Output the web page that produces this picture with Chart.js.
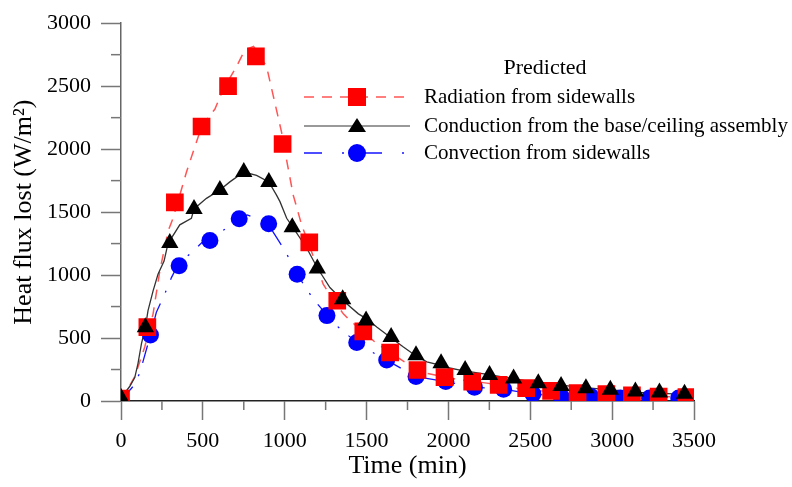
<!DOCTYPE html>
<html>
<head>
<meta charset="utf-8">
<script src="https://cdn.jsdelivr.net/npm/chart.js@4.4.1/dist/chart.umd.min.js"></script>
<style>
  html, body { margin: 0; padding: 0; background: #fff; }
  #wrap { width: 792px; height: 487px; }
</style>
</head>
<body>
<div id="wrap"><canvas id="grafico" width="792" height="487"></canvas></div>
<script>
// ---- datos ----
// marcadores (Predicted)
const radTime = [0, 161, 329, 492, 654, 824, 987, 1150, 1321, 1480, 1644, 1811, 1976, 2145, 2307, 2475, 2627, 2789, 2965, 3121, 3284, 3454];
const radVal  = [20, 587, 1577, 2180, 2500, 2736, 2041, 1260, 796, 553, 385, 246, 189, 154, 128, 102, 81, 63, 55, 44, 36, 31];

const condTime = [0, 149, 298, 446, 604, 750, 903, 1046, 1199, 1354, 1497, 1650, 1802, 1955, 2102, 2251, 2398, 2549, 2688, 2840, 2989, 3142, 3289, 3442];
const condVal  = [25, 586, 1255, 1525, 1675, 1818, 1740, 1380, 1053, 808, 639, 508, 364, 299, 246, 207, 178, 141, 120, 102, 89, 75, 68, 57];

const convTime = [0, 180, 355, 543, 722, 902, 1076, 1258, 1440, 1623, 1802, 1984, 2159, 2337, 2516, 2689, 2871, 3050, 3229, 3407];
const convVal  = [5, 524, 1074, 1274, 1447, 1407, 1006, 678, 464, 325, 194, 154, 110, 94, 55, 36, 36, 24, 24, 24];

// curvas continuas
const radCurveTime = [0, 84, 145, 196, 237, 287, 318, 400, 440, 481, 532, 573, 624, 706, 757, 810, 889, 981, 1012, 1052, 1103, 1185, 1235, 1287, 1358, 1399, 1562, 1746, 1868, 1969, 2072, 2235, 2418, 2561, 2800, 3100, 3450];
const radCurveVal  = [0, 193, 429, 692, 1032, 1347, 1451, 1818, 1976, 2133, 2250, 2316, 2473, 2657, 2788, 2815, 2657, 2133, 1910, 1635, 1400, 1111, 928, 822, 692, 639, 456, 299, 220, 193, 168, 142, 102, 81, 60, 44, 30];

const condCurveTime = [0, 53, 84, 104, 125, 149, 165, 196, 226, 263, 287, 359, 430, 446, 522, 604, 665, 750, 828, 903, 950, 971, 1012, 1046, 1134, 1199, 1276, 1354, 1450, 1501, 1562, 1643, 1725, 1796, 1868, 1949, 2000, 2071, 2255, 2561, 2867, 3173, 3478];
const condCurveVal  = [25, 115, 186, 299, 456, 586, 718, 875, 1006, 1111, 1250, 1399, 1451, 1525, 1609, 1675, 1740, 1818, 1792, 1740, 1635, 1583, 1451, 1386, 1215, 1058, 901, 800, 692, 652, 587, 508, 429, 364, 311, 285, 264, 246, 207, 142, 102, 68, 50];

const convCurveTime = [0, 73, 114, 180, 216, 267, 308, 349, 461, 502, 543, 640, 722, 771, 828, 899, 991, 1042, 1076, 1174, 1235, 1256, 1327, 1440, 1480, 1511, 1623, 1746, 1776, 1802, 1984, 2159, 2337, 2516, 2689, 2871, 3050, 3229, 3407];
const convCurveVal  = [5, 115, 220, 524, 704, 849, 980, 1085, 1215, 1268, 1294, 1368, 1447, 1478, 1451, 1404, 1215, 1097, 1006, 810, 718, 678, 587, 464, 443, 404, 325, 233, 193, 194, 154, 110, 94, 55, 36, 36, 24, 24, 24];

const xTicksMenores = [250, 750, 1250, 1750, 2250, 2750, 3250];
const yTicksMenores = [250, 750, 1250, 1750, 2250, 2750];

const fuente = '"Liberation Serif", "Times New Roman", serif';
const rojoLinea = 'rgba(255, 85, 85, 1)';
const azulLinea = 'rgba(20, 20, 255, 1)';
const negroLinea = '#333';

function pares(xs, ys) {
    return xs.map((x, i) => ({ x: x, y: ys[i] }));
}

// ticks menores y leyenda dibujados con las escalas de Chart.js
const extrasPlugin = {
    id: 'extras',
    afterDraw(chart) {
        const ctx = chart.ctx;
        const xs = chart.scales.x;
        const ys = chart.scales.y;
        ctx.save();
        ctx.strokeStyle = '#777';
        ctx.lineWidth = 1.5;
        xTicksMenores.forEach(v => {
            const px = xs.getPixelForValue(v);
            ctx.beginPath();
            ctx.moveTo(px, ys.bottom);
            ctx.lineTo(px, ys.bottom + 9);
            ctx.stroke();
        });
        yTicksMenores.forEach(v => {
            const py = ys.getPixelForValue(v);
            ctx.beginPath();
            ctx.moveTo(xs.left, py);
            ctx.lineTo(xs.left - 10, py);
            ctx.stroke();
        });

        // leyenda
        ctx.fillStyle = '#000';
        ctx.font = '22px ' + fuente;
        ctx.textAlign = 'center';
        ctx.textBaseline = 'middle';
        ctx.fillText('Predicted', 545, 68);

        const filas = [
            { y: 97, texto: 'Radiation from sidewalls', color: rojoLinea, dash: [10, 8], marca: 'rect' },
            { y: 126, texto: 'Conduction from the base/ceiling assembly', color: '#777', dash: [], marca: 'triangle' },
            { y: 153, texto: 'Convection from sidewalls', color: azulLinea, dash: [18, 20, 2, 20], marca: 'circle' }
        ];
        filas.forEach(f => {
            ctx.save();
            ctx.strokeStyle = f.color;
            ctx.lineWidth = 1.5;
            ctx.setLineDash(f.dash);
            ctx.beginPath();
            ctx.moveTo(304, f.y);
            ctx.lineTo(410, f.y);
            ctx.stroke();
            ctx.restore();
            if (f.marca === 'rect') {
                ctx.fillStyle = '#ff0000';
                ctx.fillRect(348, f.y - 9, 18, 18);
            } else if (f.marca === 'triangle') {
                ctx.fillStyle = '#000';
                ctx.beginPath();
                ctx.moveTo(357, f.y - 8);
                ctx.lineTo(366, f.y + 6);
                ctx.lineTo(348, f.y + 6);
                ctx.closePath();
                ctx.fill();
            } else {
                ctx.fillStyle = '#0000ff';
                ctx.beginPath();
                ctx.arc(357, f.y, 9, 0, Math.PI * 2);
                ctx.fill();
            }
            ctx.fillStyle = '#000';
            ctx.font = '21px ' + fuente;
            ctx.textAlign = 'left';
            ctx.fillText(f.texto, 424, f.y);
        });
        ctx.restore();
    }
};

const datasets = [
    {
        label: 'Conduction from the base/ceiling assembly',
        data: pares(condTime, condVal),
        showLine: false,
        pointStyle: 'triangle',
        pointRadius: 10,
        pointBackgroundColor: '#000',
        pointBorderWidth: 0,
        order: 0
    },
    {
        label: 'Radiation from sidewalls',
        data: pares(radTime, radVal),
        showLine: false,
        pointStyle: 'rect',
        pointRadius: 12.5,
        pointBackgroundColor: '#ff0000',
        pointBorderWidth: 0,
        order: 1
    },
    {
        label: 'Convection from sidewalls',
        data: pares(convTime, convVal),
        showLine: false,
        pointStyle: 'circle',
        pointRadius: 8.5,
        pointBackgroundColor: '#0000ff',
        pointBorderWidth: 0,
        order: 2
    },
    {
        label: 'cond curve',
        data: pares(condCurveTime, condCurveVal),
        borderColor: negroLinea,
        borderWidth: 1.3,
        pointRadius: 0,
        tension: 0,
        order: 3
    },
    {
        label: 'rad curve',
        data: pares(radCurveTime, radCurveVal),
        borderColor: rojoLinea,
        borderWidth: 1.5,
        borderDash: [10, 8],
        pointRadius: 0,
        tension: 0,
        order: 4
    },
    {
        label: 'conv curve',
        data: pares(convCurveTime, convCurveVal),
        borderColor: azulLinea,
        borderWidth: 1.3,
        borderDash: [18, 12, 2, 12],
        pointRadius: 0,
        tension: 0,
        order: 5
    }
];

const ctx = document.getElementById('grafico').getContext('2d');
new Chart(ctx, {
    type: 'line',
    data: { datasets: datasets },
    options: {
        responsive: false,
        devicePixelRatio: 1,
        animation: false,
        layout: { padding: { top: 20, right: 98, left: 0, bottom: 0 } },
        plugins: {
            legend: { display: false },
            tooltip: { enabled: false }
        },
        scales: {
            x: {
                type: 'linear',
                min: 0,
                max: 3500,
                ticks: {
                    stepSize: 500,
                    color: '#000',
                    font: { family: fuente, size: 22 },
                    padding: 8,
                    maxRotation: 0,
                    callback: v => String(v)
                },
                grid: {
                    display: true,
                    drawOnChartArea: false,
                    drawTicks: true,
                    tickLength: 19,
                    tickColor: '#777',
                    tickWidth: 1.5
                },
                border: { display: true, color: '#222', width: 1.5 },
                title: {
                    display: true,
                    text: 'Time (min)',
                    color: '#000',
                    font: { family: fuente, size: 26 },
                    padding: { top: 0, bottom: 5 }
                },
                afterFit(scale) { scale.height = 86; }
            },
            y: {
                type: 'linear',
                min: 0,
                max: 3000,
                ticks: {
                    stepSize: 500,
                    color: '#000',
                    font: { family: fuente, size: 22 },
                    padding: 10,
                    callback: v => String(v)
                },
                grid: {
                    display: true,
                    drawOnChartArea: false,
                    drawTicks: true,
                    tickLength: 20,
                    tickColor: '#777',
                    tickWidth: 1.5
                },
                border: { display: true, color: '#666', width: 1.5 },
                title: {
                    display: true,
                    text: 'Heat flux lost (W/m²)',
                    color: '#000',
                    font: { family: fuente, size: 26 },
                    padding: { top: 9, bottom: 0 }
                },
                afterFit(scale) { scale.width = 121; }
            }
        }
    },
    plugins: [extrasPlugin]
});
</script>
</body>
</html>
